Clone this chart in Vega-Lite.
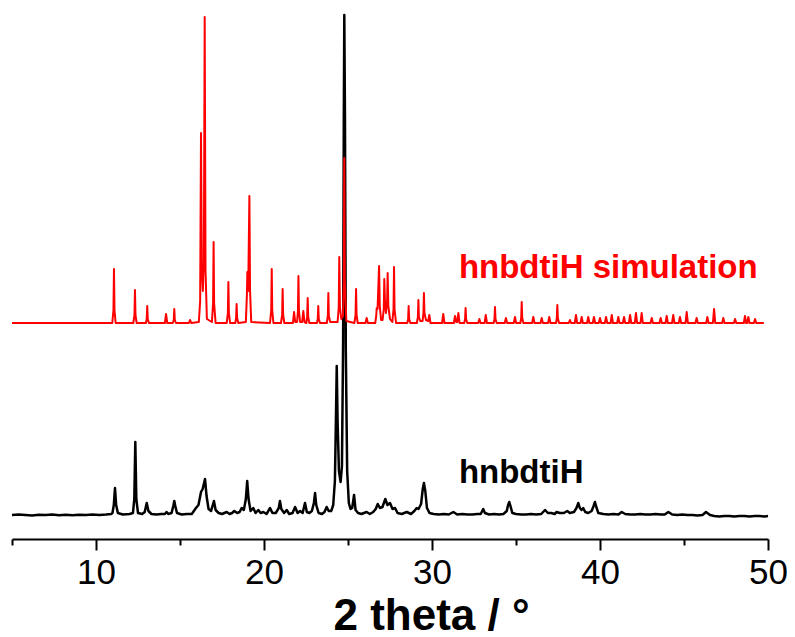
{
  "$schema": "https://vega.github.io/schema/vega-lite/v6.json",
  "width": 756,
  "height": 539,
  "autosize": "none",
  "padding": {"left": 12, "right": 27, "top": 0, "bottom": 98},
  "background": "white",
  "config": {"view": {"stroke": null}},
  "datasets": {
    "simulation": [
      {"two_theta":5.0,"intensity":218},
      {"two_theta":10.97,"intensity":218},{"two_theta":11.04,"intensity":231},{"two_theta":11.07,"intensity":272},{"two_theta":11.10,"intensity":231},{"two_theta":11.17,"intensity":218},
      {"two_theta":12.22,"intensity":218},{"two_theta":12.29,"intensity":226},{"two_theta":12.32,"intensity":251},{"two_theta":12.35,"intensity":226},{"two_theta":12.42,"intensity":218},
      {"two_theta":12.97,"intensity":218},{"two_theta":13.02,"intensity":222},{"two_theta":13.05,"intensity":235},{"two_theta":13.08,"intensity":222},{"two_theta":13.15,"intensity":218},
      {"two_theta":14.10,"intensity":218},{"two_theta":14.17,"intensity":227},{"two_theta":14.24,"intensity":218},
      {"two_theta":14.57,"intensity":218},{"two_theta":14.63,"intensity":221},{"two_theta":14.66,"intensity":232},{"two_theta":14.69,"intensity":221},{"two_theta":14.76,"intensity":218},
      {"two_theta":15.53,"intensity":218},{"two_theta":15.60,"intensity":221},{"two_theta":15.67,"intensity":218},
      {"two_theta":16.12,"intensity":219},{"two_theta":16.20,"intensity":240},{"two_theta":16.25,"intensity":408},{"two_theta":16.30,"intensity":270},{"two_theta":16.36,"intensity":250},{"two_theta":16.42,"intensity":280},{"two_theta":16.47,"intensity":524},{"two_theta":16.52,"intensity":270},{"two_theta":16.60,"intensity":222},
      {"two_theta":16.90,"intensity":219},{"two_theta":16.97,"intensity":238},{"two_theta":17.00,"intensity":299},{"two_theta":17.03,"intensity":238},{"two_theta":17.12,"intensity":218},
      {"two_theta":17.78,"intensity":218},{"two_theta":17.85,"intensity":228},{"two_theta":17.88,"intensity":259},{"two_theta":17.91,"intensity":228},{"two_theta":17.98,"intensity":218},
      {"two_theta":18.29,"intensity":218},{"two_theta":18.34,"intensity":223},{"two_theta":18.37,"intensity":237},{"two_theta":18.40,"intensity":223},{"two_theta":18.47,"intensity":218},
      {"two_theta":18.92,"intensity":219},{"two_theta":18.98,"intensity":245},{"two_theta":19.01,"intensity":269},{"two_theta":19.06,"intensity":250},{"two_theta":19.13,"intensity":345},{"two_theta":19.17,"intensity":250},{"two_theta":19.24,"intensity":219},
      {"two_theta":20.36,"intensity":218},{"two_theta":20.43,"intensity":231},{"two_theta":20.46,"intensity":272},{"two_theta":20.49,"intensity":231},{"two_theta":20.56,"intensity":218},
      {"two_theta":21.01,"intensity":218},{"two_theta":21.08,"intensity":226},{"two_theta":21.11,"intensity":252},{"two_theta":21.14,"intensity":226},{"two_theta":21.21,"intensity":218},
      {"two_theta":21.72,"intensity":218},{"two_theta":21.79,"intensity":229},{"two_theta":21.86,"intensity":219},
      {"two_theta":21.97,"intensity":219},{"two_theta":22.02,"intensity":230},{"two_theta":22.05,"intensity":265},{"two_theta":22.08,"intensity":230},{"two_theta":22.15,"intensity":219},
      {"two_theta":22.27,"intensity":219},{"two_theta":22.34,"intensity":230},{"two_theta":22.41,"intensity":219},
      {"two_theta":22.52,"intensity":218},{"two_theta":22.57,"intensity":224},{"two_theta":22.60,"intensity":243},{"two_theta":22.63,"intensity":224},{"two_theta":22.70,"intensity":218},
      {"two_theta":23.15,"intensity":218},{"two_theta":23.20,"intensity":222},{"two_theta":23.23,"intensity":235},{"two_theta":23.26,"intensity":222},{"two_theta":23.33,"intensity":218},
      {"two_theta":23.74,"intensity":218},{"two_theta":23.80,"intensity":225},{"two_theta":23.83,"intensity":248},{"two_theta":23.86,"intensity":225},{"two_theta":23.94,"intensity":219},
      {"two_theta":24.38,"intensity":219},{"two_theta":24.45,"intensity":234},{"two_theta":24.48,"intensity":284},{"two_theta":24.52,"intensity":234},{"two_theta":24.60,"intensity":222},
      {"two_theta":24.70,"intensity":225},{"two_theta":24.75,"intensity":260},{"two_theta":24.78,"intensity":383},{"two_theta":24.81,"intensity":260},{"two_theta":24.90,"intensity":220},
      {"two_theta":25.38,"intensity":218},{"two_theta":25.45,"intensity":226},{"two_theta":25.48,"intensity":252},{"two_theta":25.51,"intensity":226},{"two_theta":25.58,"intensity":218},
      {"two_theta":26.04,"intensity":218},{"two_theta":26.11,"intensity":223},{"two_theta":26.18,"intensity":218},
      {"two_theta":26.62,"intensity":218},{"two_theta":26.68,"intensity":225},{"two_theta":26.71,"intensity":233},{"two_theta":26.76,"intensity":232},{"two_theta":26.85,"intensity":275},{"two_theta":26.89,"intensity":235},{"two_theta":26.97,"intensity":221},
      {"two_theta":27.06,"intensity":221},{"two_theta":27.13,"intensity":232},{"two_theta":27.16,"intensity":262},{"two_theta":27.20,"intensity":240},{"two_theta":27.26,"intensity":228},{"two_theta":27.33,"intensity":240},{"two_theta":27.36,"intensity":268},{"two_theta":27.40,"intensity":235},{"two_theta":27.50,"intensity":222},
      {"two_theta":27.64,"intensity":219},{"two_theta":27.71,"intensity":232},{"two_theta":27.74,"intensity":274},{"two_theta":27.77,"intensity":232},{"two_theta":27.86,"intensity":218},
      {"two_theta":28.53,"intensity":218},{"two_theta":28.58,"intensity":222},{"two_theta":28.61,"intensity":235},{"two_theta":28.64,"intensity":222},{"two_theta":28.71,"intensity":218},
      {"two_theta":29.10,"intensity":218},{"two_theta":29.16,"intensity":224},{"two_theta":29.19,"intensity":241},{"two_theta":29.22,"intensity":224},{"two_theta":29.30,"intensity":220},
      {"two_theta":29.44,"intensity":220},{"two_theta":29.49,"intensity":228},{"two_theta":29.52,"intensity":248},{"two_theta":29.55,"intensity":228},{"two_theta":29.64,"intensity":221},
      {"two_theta":29.77,"intensity":220},{"two_theta":29.84,"intensity":226},{"two_theta":29.91,"intensity":218},
      {"two_theta":30.60,"intensity":218},{"two_theta":30.67,"intensity":227},{"two_theta":30.74,"intensity":218},
      {"two_theta":31.30,"intensity":218},{"two_theta":31.37,"intensity":225},{"two_theta":31.44,"intensity":219},
      {"two_theta":31.50,"intensity":219},{"two_theta":31.57,"intensity":228},{"two_theta":31.64,"intensity":218},
      {"two_theta":31.92,"intensity":218},{"two_theta":31.97,"intensity":222},{"two_theta":32.00,"intensity":233},{"two_theta":32.03,"intensity":222},{"two_theta":32.10,"intensity":218},
      {"two_theta":32.75,"intensity":218},{"two_theta":32.82,"intensity":222},{"two_theta":32.89,"intensity":218},
      {"two_theta":33.13,"intensity":218},{"two_theta":33.20,"intensity":226},{"two_theta":33.27,"intensity":218},
      {"two_theta":33.67,"intensity":218},{"two_theta":33.72,"intensity":222},{"two_theta":33.75,"intensity":234},{"two_theta":33.78,"intensity":222},{"two_theta":33.85,"intensity":218},
      {"two_theta":34.33,"intensity":218},{"two_theta":34.40,"intensity":223},{"two_theta":34.47,"intensity":218},
      {"two_theta":34.87,"intensity":218},{"two_theta":34.94,"intensity":224},{"two_theta":35.01,"intensity":218},
      {"two_theta":35.26,"intensity":218},{"two_theta":35.31,"intensity":223},{"two_theta":35.34,"intensity":239},{"two_theta":35.37,"intensity":223},{"two_theta":35.44,"intensity":218},
      {"two_theta":35.96,"intensity":218},{"two_theta":36.03,"intensity":224},{"two_theta":36.10,"intensity":218},
      {"two_theta":36.46,"intensity":218},{"two_theta":36.53,"intensity":223},{"two_theta":36.60,"intensity":218},
      {"two_theta":36.91,"intensity":218},{"two_theta":36.98,"intensity":224},{"two_theta":37.05,"intensity":218},
      {"two_theta":37.38,"intensity":218},{"two_theta":37.43,"intensity":223},{"two_theta":37.46,"intensity":236},{"two_theta":37.49,"intensity":223},{"two_theta":37.56,"intensity":218},
      {"two_theta":38.14,"intensity":218},{"two_theta":38.21,"intensity":221},{"two_theta":38.28,"intensity":218},
      {"two_theta":38.50,"intensity":218},{"two_theta":38.57,"intensity":226},{"two_theta":38.64,"intensity":218},
      {"two_theta":38.84,"intensity":218},{"two_theta":38.91,"intensity":224},{"two_theta":38.98,"intensity":218},
      {"two_theta":39.23,"intensity":218},{"two_theta":39.30,"intensity":224},{"two_theta":39.37,"intensity":218},
      {"two_theta":39.57,"intensity":218},{"two_theta":39.64,"intensity":224},{"two_theta":39.71,"intensity":218},
      {"two_theta":39.93,"intensity":218},{"two_theta":40.00,"intensity":223},{"two_theta":40.07,"intensity":218},
      {"two_theta":40.29,"intensity":218},{"two_theta":40.36,"intensity":224},{"two_theta":40.43,"intensity":218},
      {"two_theta":40.63,"intensity":218},{"two_theta":40.70,"intensity":226},{"two_theta":40.77,"intensity":218},
      {"two_theta":41.02,"intensity":218},{"two_theta":41.09,"intensity":224},{"two_theta":41.16,"intensity":218},
      {"two_theta":41.36,"intensity":218},{"two_theta":41.43,"intensity":224},{"two_theta":41.50,"intensity":218},
      {"two_theta":41.72,"intensity":218},{"two_theta":41.79,"intensity":226},{"two_theta":41.86,"intensity":218},
      {"two_theta":42.07,"intensity":218},{"two_theta":42.14,"intensity":228},{"two_theta":42.21,"intensity":218},
      {"two_theta":42.41,"intensity":218},{"two_theta":42.48,"intensity":228},{"two_theta":42.55,"intensity":218},
      {"two_theta":43.01,"intensity":218},{"two_theta":43.08,"intensity":223},{"two_theta":43.15,"intensity":218},
      {"two_theta":43.54,"intensity":218},{"two_theta":43.61,"intensity":223},{"two_theta":43.68,"intensity":218},
      {"two_theta":43.90,"intensity":218},{"two_theta":43.97,"intensity":225},{"two_theta":44.04,"intensity":218},
      {"two_theta":44.29,"intensity":218},{"two_theta":44.36,"intensity":226},{"two_theta":44.43,"intensity":218},
      {"two_theta":44.69,"intensity":218},{"two_theta":44.76,"intensity":224},{"two_theta":44.83,"intensity":218},
      {"two_theta":45.09,"intensity":218},{"two_theta":45.16,"intensity":229},{"two_theta":45.23,"intensity":218},
      {"two_theta":45.68,"intensity":218},{"two_theta":45.75,"intensity":223},{"two_theta":45.82,"intensity":218},
      {"two_theta":46.32,"intensity":218},{"two_theta":46.39,"intensity":224},{"two_theta":46.46,"intensity":218},
      {"two_theta":46.72,"intensity":218},{"two_theta":46.79,"intensity":232},{"two_theta":46.86,"intensity":218},
      {"two_theta":47.27,"intensity":218},{"two_theta":47.34,"intensity":223},{"two_theta":47.41,"intensity":218},
      {"two_theta":47.97,"intensity":218},{"two_theta":48.04,"intensity":222},{"two_theta":48.11,"intensity":218},
      {"two_theta":48.56,"intensity":218},{"two_theta":48.63,"intensity":225},{"two_theta":48.70,"intensity":218},
      {"two_theta":48.76,"intensity":218},{"two_theta":48.83,"intensity":224},{"two_theta":48.90,"intensity":218},
      {"two_theta":49.16,"intensity":218},{"two_theta":49.23,"intensity":222},{"two_theta":49.30,"intensity":218},
      {"two_theta":49.75,"intensity":218}
    ],
    "experiment": [
      {"two_theta":5.0,"intensity":26},{"two_theta":5.4,"intensity":26.5},{"two_theta":5.8,"intensity":26},{"two_theta":6.2,"intensity":25.6},{"two_theta":6.6,"intensity":26.2},{"two_theta":7.0,"intensity":26},{"two_theta":7.4,"intensity":26.5},{"two_theta":7.8,"intensity":25.8},{"two_theta":8.2,"intensity":26.2},{"two_theta":8.6,"intensity":25.7},{"two_theta":9.0,"intensity":26.3},{"two_theta":9.4,"intensity":26},{"two_theta":9.8,"intensity":26.4},{"two_theta":10.2,"intensity":26},{"two_theta":10.6,"intensity":26.5},{"two_theta":10.9,"intensity":27},
      {"two_theta":10.98,"intensity":28},{"two_theta":11.06,"intensity":36},{"two_theta":11.13,"intensity":53},{"two_theta":11.20,"intensity":36},{"two_theta":11.30,"intensity":28},
      {"two_theta":11.6,"intensity":26.5},{"two_theta":12.0,"intensity":27},
      {"two_theta":12.20,"intensity":28},{"two_theta":12.28,"intensity":42},{"two_theta":12.34,"intensity":99},{"two_theta":12.40,"intensity":42},{"two_theta":12.50,"intensity":28},
      {"two_theta":12.75,"intensity":27},{"two_theta":12.9,"intensity":29},{"two_theta":13.02,"intensity":38},{"two_theta":13.12,"intensity":30},{"two_theta":13.3,"intensity":27},{"two_theta":13.6,"intensity":26.5},{"two_theta":13.9,"intensity":27},{"two_theta":14.1,"intensity":27},{"two_theta":14.2,"intensity":29},{"two_theta":14.3,"intensity":27},{"two_theta":14.5,"intensity":28},{"two_theta":14.6,"intensity":35},{"two_theta":14.66,"intensity":40},{"two_theta":14.72,"intensity":35},{"two_theta":14.82,"intensity":28},{"two_theta":15.1,"intensity":26.5},{"two_theta":15.4,"intensity":27},{"two_theta":15.7,"intensity":27},{"two_theta":15.95,"intensity":33},{"two_theta":16.1,"intensity":36},{"two_theta":16.25,"intensity":49},{"two_theta":16.35,"intensity":52},{"two_theta":16.49,"intensity":62},{"two_theta":16.58,"intensity":45},{"two_theta":16.7,"intensity":32},{"two_theta":16.85,"intensity":30},{"two_theta":17.02,"intensity":40},{"two_theta":17.12,"intensity":31},{"two_theta":17.3,"intensity":28},{"two_theta":17.5,"intensity":27},{"two_theta":17.78,"intensity":29},{"two_theta":17.95,"intensity":27},{"two_theta":18.1,"intensity":28},{"two_theta":18.23,"intensity":30},{"two_theta":18.4,"intensity":28},{"two_theta":18.55,"intensity":29},{"two_theta":18.67,"intensity":33},{"two_theta":18.8,"intensity":31},{"two_theta":18.92,"intensity":42},{"two_theta":19.0,"intensity":60},{"two_theta":19.08,"intensity":42},{"two_theta":19.2,"intensity":30},{"two_theta":19.36,"intensity":33},{"two_theta":19.5,"intensity":28},{"two_theta":19.66,"intensity":31},{"two_theta":19.8,"intensity":28},{"two_theta":19.96,"intensity":29},{"two_theta":20.15,"intensity":27},{"two_theta":20.36,"intensity":33},{"two_theta":20.5,"intensity":28},{"two_theta":20.7,"intensity":28},{"two_theta":20.88,"intensity":33},{"two_theta":20.95,"intensity":40},{"two_theta":21.03,"intensity":32},{"two_theta":21.2,"intensity":28},{"two_theta":21.35,"intensity":31},{"two_theta":21.5,"intensity":27},{"two_theta":21.7,"intensity":28},{"two_theta":21.85,"intensity":34},{"two_theta":22.0,"intensity":28},{"two_theta":22.15,"intensity":30},{"two_theta":22.3,"intensity":28},{"two_theta":22.44,"intensity":38},{"two_theta":22.55,"intensity":29},{"two_theta":22.7,"intensity":28},{"two_theta":22.85,"intensity":30},{"two_theta":22.97,"intensity":38},{"two_theta":23.04,"intensity":48},{"two_theta":23.11,"intensity":36},{"two_theta":23.25,"intensity":28},{"two_theta":23.45,"intensity":27},{"two_theta":23.6,"intensity":29},{"two_theta":23.73,"intensity":34},{"two_theta":23.85,"intensity":30},{"two_theta":24.0,"intensity":30},{"two_theta":24.12,"intensity":36},{"two_theta":24.22,"intensity":60},{"two_theta":24.28,"intensity":120},{"two_theta":24.33,"intensity":175},{"two_theta":24.38,"intensity":120},{"two_theta":24.46,"intensity":70},{"two_theta":24.56,"intensity":59},{"two_theta":24.64,"intensity":75},{"two_theta":24.71,"intensity":200},{"two_theta":24.75,"intensity":420},{"two_theta":24.78,"intensity":526},{"two_theta":24.82,"intensity":420},{"two_theta":24.87,"intensity":190},{"two_theta":24.95,"intensity":70},{"two_theta":25.05,"intensity":38},{"two_theta":25.15,"intensity":32},{"two_theta":25.25,"intensity":33},{"two_theta":25.36,"intensity":46},{"two_theta":25.45,"intensity":31},{"two_theta":25.6,"intensity":28},{"two_theta":25.8,"intensity":27},{"two_theta":25.95,"intensity":28},{"two_theta":26.11,"intensity":29},{"two_theta":26.3,"intensity":27},{"two_theta":26.5,"intensity":29},{"two_theta":26.65,"intensity":32},{"two_theta":26.77,"intensity":37},{"two_theta":26.9,"intensity":33},{"two_theta":27.05,"intensity":34},{"two_theta":27.22,"intensity":42},{"two_theta":27.35,"intensity":36},{"two_theta":27.5,"intensity":38},{"two_theta":27.65,"intensity":32},{"two_theta":27.8,"intensity":33},{"two_theta":27.95,"intensity":28},{"two_theta":28.2,"intensity":27},{"two_theta":28.5,"intensity":29},{"two_theta":28.75,"intensity":27},{"two_theta":28.95,"intensity":30},{"two_theta":29.09,"intensity":33},{"two_theta":29.2,"intensity":32},{"two_theta":29.35,"intensity":37},{"two_theta":29.45,"intensity":52},{"two_theta":29.52,"intensity":58},{"two_theta":29.6,"intensity":50},{"two_theta":29.7,"intensity":33},{"two_theta":29.85,"intensity":28},{"two_theta":30.1,"intensity":27},{"two_theta":30.4,"intensity":26.5},{"two_theta":30.7,"intensity":27},{"two_theta":31.0,"intensity":26.5},{"two_theta":31.27,"intensity":29},{"two_theta":31.5,"intensity":26.5},{"two_theta":31.8,"intensity":27},{"two_theta":32.1,"intensity":26.5},{"two_theta":32.4,"intensity":26.5},{"two_theta":32.7,"intensity":27},{"two_theta":32.9,"intensity":27},{"two_theta":33.05,"intensity":32},{"two_theta":33.15,"intensity":28},{"two_theta":33.4,"intensity":26.5},{"two_theta":33.7,"intensity":27},{"two_theta":34.0,"intensity":26.5},{"two_theta":34.25,"intensity":27},{"two_theta":34.45,"intensity":30},{"two_theta":34.53,"intensity":36},{"two_theta":34.6,"intensity":39},{"two_theta":34.67,"intensity":35},{"two_theta":34.78,"intensity":28},{"two_theta":35.0,"intensity":27},{"two_theta":35.3,"intensity":26.5},{"two_theta":35.6,"intensity":26.5},{"two_theta":35.9,"intensity":27},{"two_theta":36.2,"intensity":26.5},{"two_theta":36.5,"intensity":27},{"two_theta":36.73,"intensity":31},{"two_theta":36.9,"intensity":28},{"two_theta":37.1,"intensity":28},{"two_theta":37.3,"intensity":27},{"two_theta":37.42,"intensity":29},{"two_theta":37.6,"intensity":28},{"two_theta":37.85,"intensity":28},{"two_theta":38.05,"intensity":30},{"two_theta":38.2,"intensity":28},{"two_theta":38.45,"intensity":29},{"two_theta":38.6,"intensity":33},{"two_theta":38.71,"intensity":38},{"two_theta":38.8,"intensity":33},{"two_theta":38.9,"intensity":31},{"two_theta":39.0,"intensity":33},{"two_theta":39.12,"intensity":29},{"two_theta":39.3,"intensity":28},{"two_theta":39.5,"intensity":30},{"two_theta":39.62,"intensity":35},{"two_theta":39.7,"intensity":39},{"two_theta":39.78,"intensity":34},{"two_theta":39.9,"intensity":28},{"two_theta":40.2,"intensity":27},{"two_theta":40.5,"intensity":26.5},{"two_theta":40.8,"intensity":27},{"two_theta":41.1,"intensity":26.5},{"two_theta":41.29,"intensity":29},{"two_theta":41.5,"intensity":27},{"two_theta":41.8,"intensity":26.5},{"two_theta":42.1,"intensity":26.5},{"two_theta":42.4,"intensity":27},{"two_theta":42.7,"intensity":26.5},{"two_theta":43.0,"intensity":26.5},{"two_theta":43.3,"intensity":27},{"two_theta":43.6,"intensity":26.5},{"two_theta":43.85,"intensity":26.5},{"two_theta":44.07,"intensity":29},{"two_theta":44.3,"intensity":26.5},{"two_theta":44.6,"intensity":26},{"two_theta":44.9,"intensity":26.5},{"two_theta":45.2,"intensity":26},{"two_theta":45.5,"intensity":26},{"two_theta":45.8,"intensity":25.5},{"two_theta":46.1,"intensity":26},{"two_theta":46.31,"intensity":29},{"two_theta":46.55,"intensity":26},{"two_theta":46.8,"intensity":25},{"two_theta":47.1,"intensity":24.5},{"two_theta":47.4,"intensity":25},{"two_theta":47.7,"intensity":25},{"two_theta":48.0,"intensity":24.5},{"two_theta":48.3,"intensity":25},{"two_theta":48.6,"intensity":25},{"two_theta":48.9,"intensity":24.5},{"two_theta":49.2,"intensity":25},{"two_theta":49.5,"intensity":25},{"two_theta":49.8,"intensity":24.5},{"two_theta":50.0,"intensity":25}
    ],
    "labels": [
      {"two_theta":31.6,"intensity":263.3,"label":"hnbdtiH simulation","pattern":"simulation"},
      {"two_theta":31.6,"intensity":57.7,"label":"hnbdtiH","pattern":"experiment"}
    ]
  },
  "layer": [
    {
      "data": {"name": "experiment"},
      "mark": {"type": "line", "color": "#000000", "strokeWidth": 2.5, "strokeJoin": "round"},
      "encoding": {
        "x": {
          "field": "two_theta", "type": "quantitative",
          "scale": {"domain": [5, 50], "nice": false, "zero": false},
          "axis": {
            "values": [5, 10, 15, 20, 25, 30, 35, 40, 45, 50],
            "tickSize": {"condition": {"test": "datum.value % 10 === 0", "value": 11}, "value": 6},
            "tickWidth": 2, "tickColor": "#000000",
            "domainColor": "#000000", "domainWidth": 2,
            "grid": false,
            "labelExpr": "datum.value % 10 === 0 ? datum.label : ''",
            "labelFont": "Liberation Sans", "labelFontSize": 35, "labelColor": "#000000",
            "labelPadding": 5, "labelFlush": false, "labelOverlap": false,
            "title": "2 theta / °",
            "titleFont": "Liberation Sans", "titleFontSize": 44, "titleFontWeight": "bold", "titleColor": "#000000",
            "titleX": 419, "titleY": 90, "titleAlign": "center", "titleBaseline": "alphabetic", "titleAnchor": null
          }
        },
        "y": {
          "field": "intensity", "type": "quantitative",
          "scale": {"domain": [2, 541], "nice": false, "zero": false},
          "axis": null
        }
      }
    },
    {
      "data": {"name": "simulation"},
      "mark": {"type": "line", "color": "#ff0000", "strokeWidth": 2, "strokeJoin": "round"},
      "encoding": {
        "x": {"field": "two_theta", "type": "quantitative"},
        "y": {"field": "intensity", "type": "quantitative"}
      }
    },
    {
      "data": {"name": "labels"},
      "mark": {"type": "text", "align": "left", "baseline": "alphabetic", "font": "Liberation Sans", "fontSize": 33, "fontWeight": "bold"},
      "encoding": {
        "x": {"field": "two_theta", "type": "quantitative"},
        "y": {"field": "intensity", "type": "quantitative"},
        "text": {"field": "label"},
        "color": {"field": "pattern", "type": "nominal", "scale": {"domain": ["experiment", "simulation"], "range": ["#000000", "#ff0000"]}, "legend": null}
      }
    }
  ]
}
